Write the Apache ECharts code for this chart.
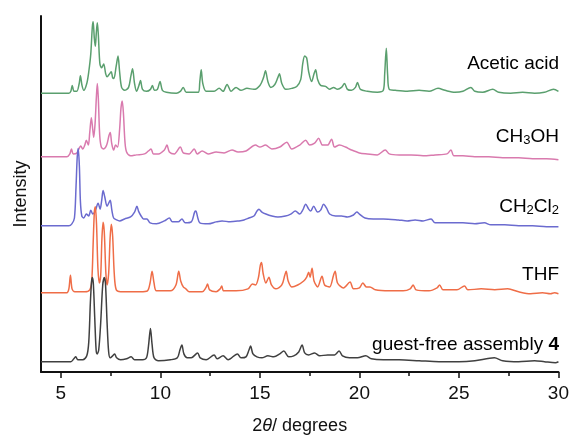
<!DOCTYPE html>
<html><head><meta charset="utf-8">
<script src="https://cdn.jsdelivr.net/npm/echarts@6/dist/echarts.min.js"></script>
<style>html,body{margin:0;padding:0;background:#fff}#c{width:572px;height:440px}</style>
</head><body><div id="c"></div>
<script>
// ---- data (2θ in degrees, intensity in arbitrary units above each trace's baseline) ----
const seriesNames = ['Acetic acid', 'CH3OH', 'CH2Cl2', 'THF', 'guest-free assembly 4'];
const baselines = [285, 220, 149.5, 81, 10.5];   // vertical stacking offsets (a.u.)

const aceticAcid = [[4.0,0],[5.4,0],[5.5,2],[5.57,8],[5.66,2],[5.8,2],[5.92,10],[5.98,18],[6.06,8],[6.15,3],[6.3,10],[6.4,22],[6.5,40],[6.58,68],[6.62,73],[6.68,56],[6.73,48],[6.78,62],[6.83,72],[6.88,60],[6.96,30],[7.05,26],[7.15,30],[7.25,20],[7.32,17],[7.45,20],[7.53,22],[7.6,16],[7.66,15],[7.78,28],[7.87,38],[7.95,22],[8.05,6],[8.2,3],[8.4,6],[8.52,18],[8.6,25],[8.7,10],[8.8,2],[8.92,8],[9.0,13],[9.1,4],[9.3,2],[9.5,4],[9.6,8],[9.7,3],[9.85,4],[9.98,12],[10.1,3],[10.3,1],[10.8,0],[11.0,2],[11.15,6],[11.3,1],[11.9,1],[11.98,12],[12.05,24],[12.13,10],[12.3,2],[12.7,2],[12.95,5],[13.15,2],[13.35,9],[13.55,2],[13.8,6],[14.05,3],[14.35,5],[14.7,4],[15.0,8],[15.18,16],[15.28,23],[15.4,12],[15.55,6],[15.75,9],[15.9,16],[15.98,20],[16.1,10],[16.3,4],[16.6,5],[16.85,7],[17.05,14],[17.15,30],[17.25,38],[17.35,36],[17.45,22],[17.6,12],[17.72,20],[17.8,24],[17.9,14],[18.05,8],[18.3,7],[18.5,4],[18.7,6],[18.9,4],[19.1,6],[19.25,10],[19.4,4],[19.6,3],[19.8,6],[19.9,11],[20.05,4],[20.4,2],[20.9,1],[21.2,3],[21.27,20],[21.35,46],[21.42,18],[21.5,4],[21.8,3],[22.4,2],[23.0,3],[23.5,2],[23.95,5],[24.3,3],[24.8,1],[25.2,2],[25.6,6],[25.8,2],[26.2,1],[26.7,4],[27.0,1],[27.6,0],[28.2,1],[28.8,0],[29.3,1],[29.75,4],[30.0,2]];

const methanol = [[4.0,0],[5.3,0],[5.45,3],[5.53,8],[5.62,3],[5.8,4],[6.0,11],[6.1,8],[6.2,12],[6.28,17],[6.38,12],[6.45,25],[6.53,40],[6.6,28],[6.65,20],[6.72,35],[6.78,60],[6.83,75],[6.88,60],[6.95,22],[7.03,10],[7.15,8],[7.3,12],[7.42,22],[7.48,25],[7.55,14],[7.65,7],[7.75,12],[7.85,10],[7.95,28],[8.02,50],[8.08,57],[8.14,45],[8.22,15],[8.3,5],[8.5,1],[8.8,2],[9.2,3],[9.4,6],[9.53,8],[9.65,3],[9.9,3],[10.2,7],[10.33,12],[10.45,5],[10.7,3],[11.0,10],[11.15,4],[11.45,3],[11.7,8],[11.85,3],[12.1,6],[12.4,3],[12.8,5],[13.2,4],[13.6,7],[13.9,5],[14.3,6],[14.78,12],[15.0,10],[15.28,12],[15.6,8],[16.0,10],[16.35,15],[16.6,8],[17.0,12],[17.3,17],[17.5,12],[17.75,14],[17.95,19],[18.15,12],[18.4,12],[18.6,18],[18.75,10],[19.0,12],[19.3,10],[19.6,7],[20.0,4],[20.4,3],[20.9,2],[21.3,7],[21.5,3],[22.0,2],[22.6,2],[23.2,1],[23.8,2],[24.4,3],[24.6,7],[24.75,1],[25.2,1],[25.8,0],[26.5,0],[27.2,-1],[28.0,-1],[28.7,-2],[29.4,-2],[30.0,-3]];

const dichloromethane = [[4.0,0],[5.4,0],[5.55,2],[5.68,8],[5.76,40],[5.82,70],[5.87,79],[5.93,60],[5.98,25],[6.05,10],[6.15,8],[6.28,12],[6.4,10],[6.5,16],[6.6,12],[6.72,15],[6.87,23],[6.97,17],[7.05,26],[7.12,36],[7.2,30],[7.32,20],[7.42,24],[7.48,26],[7.56,16],[7.65,8],[7.8,6],[7.95,5],[8.2,7],[8.5,9],[8.7,14],[8.82,20],[8.9,15],[9.03,10],[9.15,7],[9.32,7],[9.48,3],[9.8,2],[10.2,5],[10.45,8],[10.6,4],[10.9,4],[11.08,7],[11.25,3],[11.55,4],[11.72,14],[11.78,15],[11.88,8],[11.98,3],[12.4,2],[12.8,4],[13.1,5],[13.5,4],[13.95,5],[14.2,6],[14.45,8],[14.7,10],[14.85,15],[14.95,17],[15.1,14],[15.3,12],[15.6,10],[15.9,9],[16.28,10],[16.55,12],[16.78,15],[17.0,12],[17.15,16],[17.3,22],[17.45,17],[17.55,15],[17.7,20],[17.9,14],[18.05,16],[18.2,22],[18.35,18],[18.5,12],[18.8,10],[19.1,10],[19.4,9],[19.7,11],[19.87,14],[20.0,12],[20.28,8],[20.7,7],[21.2,7],[21.95,6],[22.4,5],[22.8,6],[23.2,5],[23.6,7],[23.8,3],[24.5,3],[25.2,3],[25.8,2],[26.28,3],[26.6,1],[27.3,1],[28.0,0],[28.7,0],[29.4,-1],[30.0,-1]];

const thf = [[4.0,0],[5.3,0],[5.4,4],[5.48,18],[5.56,4],[5.7,1],[6.2,1],[6.45,3],[6.55,12],[6.62,50],[6.68,82],[6.73,88],[6.79,70],[6.86,25],[6.93,10],[7.0,18],[7.06,55],[7.12,72],[7.18,62],[7.26,20],[7.32,8],[7.4,20],[7.47,55],[7.53,70],[7.6,58],[7.68,20],[7.78,3],[8.0,1],[9.0,1],[9.35,2],[9.48,10],[9.58,22],[9.68,10],[9.8,2],[10.5,2],[10.78,8],[10.92,22],[11.02,12],[11.15,6],[11.28,4],[11.45,1],[12.1,1],[12.28,5],[12.37,9],[12.47,3],[12.8,1],[13.0,4],[13.08,7],[13.18,2],[13.8,2],[14.4,4],[14.62,9],[14.78,8],[14.92,15],[15.02,28],[15.08,31],[15.16,20],[15.3,10],[15.45,16],[15.58,8],[15.8,4],[16.1,8],[16.25,18],[16.32,22],[16.42,12],[16.6,6],[16.9,8],[17.2,12],[17.35,16],[17.45,21],[17.52,16],[17.62,25],[17.72,12],[17.9,6],[18.12,17],[18.25,8],[18.5,6],[18.7,18],[18.78,22],[18.9,10],[19.2,5],[19.53,11],[19.7,4],[20.0,5],[20.17,10],[20.35,6],[20.53,6],[20.8,3],[21.5,2],[22.2,2],[22.55,4],[22.7,8],[22.85,3],[23.5,2],[23.9,5],[24.03,8],[24.2,3],[24.9,3],[25.28,7],[25.45,3],[26.12,4],[26.8,3],[27.45,4],[28.0,1],[28.6,-1],[29.2,0],[29.6,-1],[29.8,0],[30.0,-1]];

const guestFree = [[4.0,0],[5.5,0],[5.65,3],[5.75,5],[5.85,2],[6.1,2],[6.3,6],[6.4,20],[6.48,60],[6.54,82],[6.58,86],[6.63,80],[6.7,45],[6.77,12],[6.82,8],[6.9,12],[7.0,40],[7.1,78],[7.18,86],[7.24,80],[7.32,40],[7.4,10],[7.48,4],[7.6,6],[7.7,8],[7.8,4],[8.0,2],[8.3,3],[8.53,5],[8.7,2],[9.1,2],[9.3,4],[9.4,16],[9.5,34],[9.58,18],[9.68,4],[9.9,1],[10.5,2],[10.85,4],[10.98,12],[11.08,17],[11.18,8],[11.35,4],[11.55,4],[11.87,9],[12.0,4],[12.3,2],[12.7,7],[12.85,3],[13.15,6],[13.4,2],[13.87,8],[14.05,4],[14.3,5],[14.45,12],[14.53,16],[14.65,8],[14.85,5],[15.1,4],[15.4,6],[15.7,5],[16.0,8],[16.2,11],[16.45,5],[16.7,6],[16.95,10],[17.12,17],[17.25,9],[17.45,7],[17.75,9],[18.0,6],[18.4,7],[18.75,7],[18.98,11],[19.15,6],[19.5,4],[19.9,4],[20.32,6],[20.6,3],[21.2,2],[22.0,2],[23.0,1],[24.0,0],[25.0,0],[25.8,1],[26.78,4],[27.2,1],[28.0,0],[28.8,1],[29.3,0],[29.85,-1],[30.0,0]];

const xLabelTicks = [5, 10, 15, 20, 25, 30];
const xMinorTicks = [7.5, 12.5, 17.5, 22.5, 27.5];

// ---- styling ----
const traces = [aceticAcid, methanol, dichloromethane, thf, guestFree];
const colors = ['#5a9f6e', '#d97aae', '#6b6bcf', '#ef6d47', '#404040'];
const FONT = "'Liberation Sans', Arial, Helvetica, sans-serif";
const labelY = [64, 137, 207, 275, 345];
const labelTexts = [
  '{n|Acetic acid}',
  '{n|CH}{s|3}{n|OH}',
  '{n|CH}{s|2}{n|Cl}{s|2}',
  '{n|THF}',
  '{n|guest-free assembly }{b|4}'
];
const rich = {
  n: { fontSize: 19, fontFamily: FONT, color: '#111', lineHeight: 22 },
  s: { fontSize: 13, fontFamily: FONT, color: '#111', lineHeight: 13, verticalAlign: 'bottom', padding: [0, 0, 1, 0] },
  b: { fontSize: 19, fontFamily: FONT, color: '#111', fontWeight: 'bold', lineHeight: 22 }
};

const chart = echarts.init(document.getElementById('c'), null, { renderer: 'canvas' });
chart.setOption({
  animation: false,
  backgroundColor: '#ffffff',
  grid: { left: 41, right: 13, top: 16, bottom: 60 },
  xAxis: [{
    type: 'value', min: 4, max: 30, position: 'bottom',
    axisLine: { show: true, lineStyle: { color: '#111', width: 2 } },
    axisTick: { show: true, customValues: xLabelTicks, length: 6, inside: false, lineStyle: { color: '#111', width: 1.5 } },
    axisLabel: { show: true, customValues: xLabelTicks, fontSize: 19, fontFamily: FONT, color: '#111', margin: 12 },
    splitLine: { show: false },
    name: '{n|2}{i|θ}{n|/ degrees}',
    nameLocation: 'middle', nameGap: 45,
    nameTextStyle: {
      rich: {
        n: { fontSize: 18, fontFamily: FONT, color: '#111' },
        i: { fontSize: 18, fontFamily: FONT, color: '#111', fontStyle: 'italic' }
      }
    }
  }, {
    type: 'value', min: 4, max: 30, position: 'bottom',
    axisLine: { show: false },
    axisTick: { show: true, customValues: xMinorTicks, length: 4, inside: false, lineStyle: { color: '#111', width: 1.5 } },
    axisLabel: { show: false },
    splitLine: { show: false }
  }],
  yAxis: {
    type: 'value', min: 0, max: 364,
    axisLine: { show: true, lineStyle: { color: '#111', width: 2 } },
    axisTick: { show: false }, axisLabel: { show: false }, splitLine: { show: false },
    name: 'Intensity', nameLocation: 'middle', nameGap: 11,
    nameTextStyle: { fontSize: 18, fontFamily: FONT, color: '#111' }
  },
  series: traces.map((d, i) => ({
    name: seriesNames[i],
    type: 'line',
    xAxisIndex: 0,
    showSymbol: false,
    symbol: 'none',
    smooth: 0.3,
    lineStyle: { color: colors[i], width: 1.5 },
    data: d.map(p => [p[0], p[1] + baselines[i]])
  })),
  graphic: labelTexts.map((t, i) => ({
    type: 'text',
    x: 559, y: labelY[i],
    style: { text: t, rich: rich, align: 'right', verticalAlign: 'middle' }
  }))
});
</script>
</body></html>
